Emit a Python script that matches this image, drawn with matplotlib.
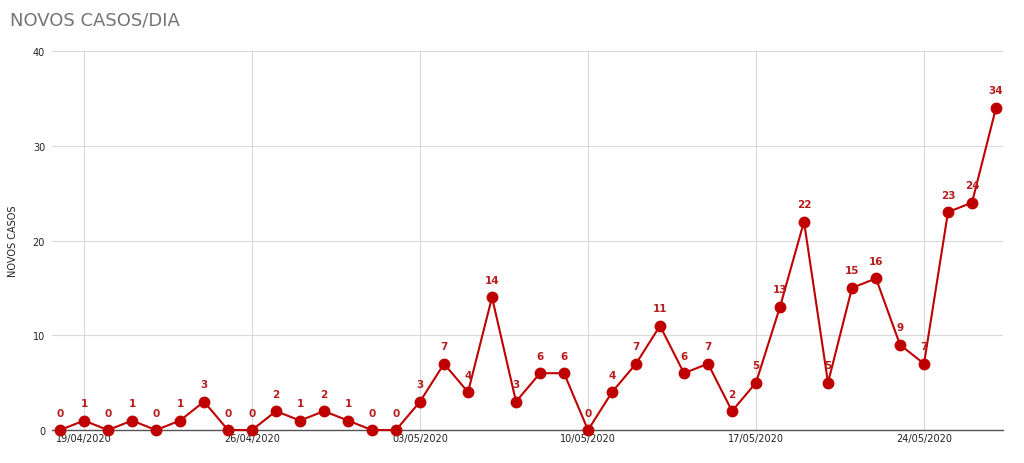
import numpy as np
import pandas as pd
import matplotlib
matplotlib.use("Agg")
import matplotlib.pyplot as plt
import matplotlib.dates as mdates

# dados: novos casos por dia
start_date = "2020-04-18"
novos_casos = [0, 1, 0, 1, 0, 1, 3, 0, 0, 2, 1, 2, 1, 0, 0,
               3, 7, 4, 14, 3, 6, 6, 0, 4, 7, 11, 6, 7, 2, 5,
               13, 22, 5, 15, 16, 9, 7, 23, 24, 34]
y_ticks = [0, 10, 20, 30, 40]

dates = pd.date_range(start_date, periods=len(novos_casos), freq="D")

red = "#c00000"

fig = plt.figure(figsize=(10.24, 4.64), dpi=100)
ax = fig.add_axes([0.0508, 0.071, 0.9287, 0.817])

ax.plot(dates, novos_casos, color=red, lw=1.5, marker="o", ms=7.5,
        markerfacecolor=red, markeredgecolor=red, zorder=3, clip_on=False)

for d, v in zip(dates, novos_casos):
    ax.annotate(str(v), (d, v), xytext=(0, 9), textcoords="offset points",
                ha="center", va="bottom", fontsize=7.5, fontweight="bold",
                color="#b71c1c", zorder=4)

ax.set_ylim(0, 40)
ax.set_yticks(y_ticks)
ax.set_xlim(dates[0] - pd.Timedelta(hours=8), dates[-1] + pd.Timedelta(hours=7))
# semanas a partir de domingo 19/04
ax.xaxis.set_major_locator(mdates.WeekdayLocator(byweekday=mdates.SU))
ax.xaxis.set_major_formatter(mdates.DateFormatter("%d/%m/%Y"))

ax.grid(True, color="#d9d9d9", lw=0.8)
ax.set_axisbelow(True)
for s in ["top", "right", "left"]:
    ax.spines[s].set_visible(False)
ax.spines["bottom"].set_color("#555555")
ax.spines["bottom"].set_linewidth(1.0)
ax.tick_params(axis="both", length=0, labelsize=7, colors="#222222")
ax.tick_params(axis="x", pad=2)
ax.tick_params(axis="y", pad=5)

ax.set_ylabel("NOVOS CASOS", fontsize=7, color="#222222", labelpad=2)
ax.yaxis.set_label_coords(-0.036, 0.5)
fig.text(0.01, 0.955, "NOVOS CASOS/DIA", fontsize=13, color="#757575",
         ha="left", va="center")

fig.savefig("out.png", dpi=100)
